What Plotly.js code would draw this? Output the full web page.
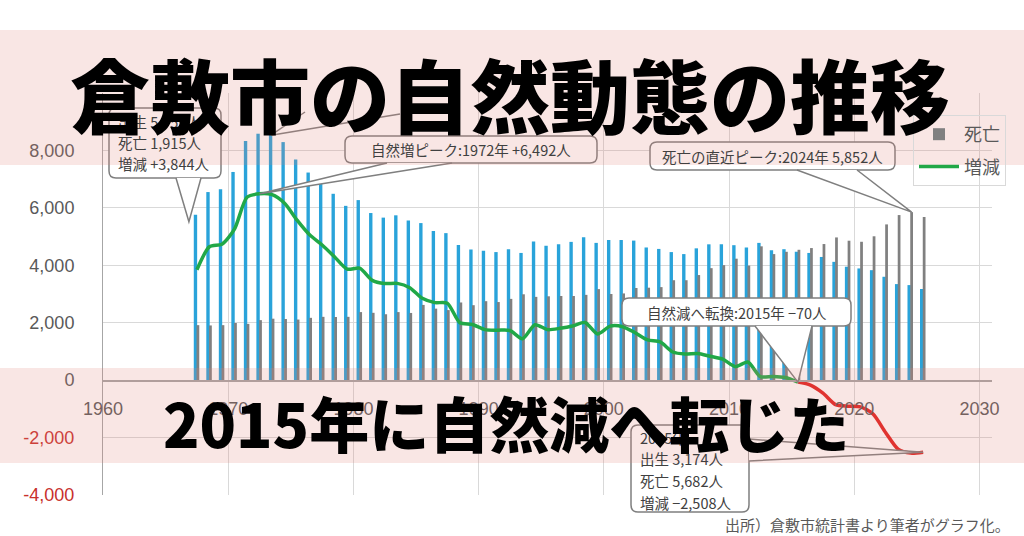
<!DOCTYPE html>
<html><head><meta charset="utf-8">
<script src="https://cdn.plot.ly/plotly-3.0.1.min.js"></script>
<style>html,body{margin:0;padding:0;background:#fff}#chart{width:1024px;height:536px}</style>
</head><body><div id="chart"></div>
<script>
const years = [1967,1968,1969,1970,1971,1972,1973,1974,1975,1976,1977,1978,1979,1980,1981,1982,1983,1984,1985,1986,1987,1988,1989,1990,1991,1992,1993,1994,1995,1996,1997,1998,1999,2000,2001,2002,2003,2004,2005,2006,2007,2008,2009,2010,2011,2012,2013,2014,2015,2016,2017,2018,2019,2020,2021,2022,2023,2024,2025];
const births = [5759,6550,6650,7250,8330,8582,8600,8290,7680,7230,6910,6490,6070,6270,5820,5660,5740,5560,5470,5190,5120,4705,4550,4510,4460,4560,4430,4830,4680,4735,4815,4980,4780,4880,4880,4860,4620,4570,4460,4390,4590,4730,4735,4700,4620,4780,4520,4560,4470,4430,4290,4120,3950,3890,3830,3600,3345,3310,3174];
const deaths = [1915,1905,1915,1990,1960,2090,2140,2130,2110,2170,2205,2200,2205,2370,2345,2295,2370,2340,2620,2490,2440,2705,2610,2750,2720,2830,2990,2900,2920,2930,2930,2970,3170,3000,3020,3210,3220,3240,3480,3480,3660,3900,4005,4230,3990,4660,4390,4470,4540,4600,4740,4970,4856,4819,5010,5424,5749,5852,5682];
const change = [3844,4645,4735,5260,6370,6492,6460,6160,5570,5060,4705,4290,3865,3900,3475,3365,3370,3220,2850,2700,2680,2000,1940,1760,1740,1730,1440,1930,1760,1805,1885,2010,1610,1880,1860,1650,1400,1330,980,910,930,830,730,470,630,120,130,90,-70,-170,-450,-850,-906,-929,-1180,-1824,-2404,-2542,-2508];
const yTicks = [-4000,-2000,0,2000,4000,6000,8000];
const xTicks = [1960,1970,1980,1990,2000,2010,2020,2030];

// layout geometry
const M = {l:103, r:32, t:93, b:41}, W = 1024, H = 536;
const XR = [1960, 2031], YR = [-4000, 10000];
const PW = W - M.l - M.r, PH = H - M.t - M.b;
const xpix = x => M.l + (x - XR[0]) / (XR[1] - XR[0]) * PW;
const ypix = v => M.t + (YR[1] - v) / (YR[1] - YR[0]) * PH;
const px = p => (p - M.l) / PW;
const py = p => (H - M.b - p) / PH;
const mid = y => y + 0.5;

const fmt = v => Math.abs(v).toLocaleString('en-US');
const sgn = v => (v > 0 ? '+' : v < 0 ? '−' : '') + fmt(v);

const xs = years.map(mid);
const gIdx = years.map((y,i)=>i).filter(i => years[i] <= 2015);
const rIdx = years.map((y,i)=>i).filter(i => years[i] >= 2015);

const traces = [
  {type:'bar', name:'出生', x:xs, y:births, width:0.27, offset:-0.25, marker:{color:'#29a3da'}, showlegend:false, legendgroup:'a'},
  {type:'bar', name:'死亡', x:xs, y:deaths, width:0.22, offset:-0.03, marker:{color:'#808080'}, legendgroup:'b'},
  {type:'scatter', mode:'lines', name:'増減', x:gIdx.map(i=>xs[i]), y:gIdx.map(i=>change[i]), line:{color:'#21a847', width:3.5, shape:'spline', smoothing:0.7}, legendgroup:'c'},
  {type:'scatter', mode:'lines', name:'増減(減)', x:rIdx.map(i=>xs[i]), y:rIdx.map(i=>change[i]), line:{color:'#e0201e', width:3.5, shape:'spline', smoothing:0.7}, showlegend:false, legendgroup:'d'}
];

const CF = {family:'"Noto Sans CJK JP", "Noto Sans", sans-serif', size:14.5, color:'#404040'};
const shapes = [], annotations = [];

function roundRect(x0,y0,x1,y1,r){
  const P=(a,b)=>px(a)+','+py(b);
  return 'M'+P(x0+r,y0)+' L'+P(x1-r,y0)+' Q'+P(x1,y0)+' '+P(x1,y0+r)+' L'+P(x1,y1-r)+' Q'+P(x1,y1)+' '+P(x1-r,y1)+' L'+P(x0+r,y1)+' Q'+P(x0,y1)+' '+P(x0,y1-r)+' L'+P(x0,y0+r)+' Q'+P(x0,y0)+' '+P(x0+r,y0)+' Z';
}
function callout(box, base1, base2, tip, lines, opts){
  opts = opts || {};
  shapes.push({type:'path', xref:'paper', yref:'paper', layer:'above', path:roundRect(box[0],box[1],box[2],box[3],7), fillcolor:'#ffffff', line:{color:'#7f7f7f', width:1.5}});
  shapes.push({type:'path', xref:'paper', yref:'paper', layer:'above', path:'M'+px(base1[0])+','+py(base1[1])+' L'+px(tip[0])+','+py(tip[1])+' L'+px(base2[0])+','+py(base2[1]), fillcolor:'#ffffff', line:{color:'#7f7f7f', width:1.5}});
  if (opts.center){
    annotations.push({xref:'paper', yref:'paper', x:px((box[0]+box[2])/2), y:py((box[1]+box[3])/2), xanchor:'center', yanchor:'middle', text:lines[0], showarrow:false, font:Object.assign({}, CF, opts.font||{})});
  } else {
    lines.forEach((t,k)=>{
      annotations.push({xref:'paper', yref:'paper', x:px(box[0]+7), y:py(opts.y0 + k*opts.dy), xanchor:'left', yanchor:'middle', text:t, showarrow:false, font:CF});
    });
  }
}

// first year callout
const i0 = 0;
callout([109,108,221,178],[176,178],[201,178],[xpix(xs[i0])-8, ypix(births[i0])+7],
  ['出生 '+fmt(births[i0])+'人','死亡 '+fmt(deaths[i0])+'人','増減 '+sgn(change[i0])+'人'], {y0:122, dy:20.5});
// natural increase peak
const ip = change.indexOf(Math.max(...change));
callout([345,136,597,163],[387,163],[452,163],[xpix(xs[ip]), ypix(change[ip])],
  ['自然増ピーク:'+years[ip]+'年 '+sgn(change[ip])+'人'], {center:true});
// recent death peak
const id = deaths.indexOf(Math.max(...deaths));
callout([650,142,895,170],[797,170],[857,170],[xpix(xs[id]+0.08), ypix(deaths[id])],
  ['死亡の直近ピーク:'+years[id]+'年 '+fmt(deaths[id])+'人'], {center:true});
// turning to natural decrease
const it = change.findIndex(v => v < 0);
callout([622,298,851,326],[755,326],[812,326],[xpix(xs[it]), ypix(change[it])],
  ['自然減へ転換:'+years[it]+'年 '+sgn(change[it])+'人'], {center:true});
// latest year
const il = years.length - 1;
callout([631,425,749,512],[749,439],[749,461],[xpix(xs[il]), ypix(change[il])],
  [years[il]+'年','出生 '+fmt(births[il])+'人','死亡 '+fmt(deaths[il])+'人','増減 '+sgn(change[il])+'人'], {y0:437, dy:21.7});
// leader of the births peak callout (hidden behind title)
const ib = births.indexOf(Math.max(...births));
[[305,112],[400,114]].forEach(e=>{
  shapes.push({type:'line', xref:'paper', yref:'paper', layer:'above', x0:px(xpix(xs[ib])-1), y0:py(ypix(births[ib])+2), x1:px(e[0]), y1:py(e[1]), line:{color:'#7f7f7f', width:1.5}});
});

// pink bands
const band = 'rgba(225,128,118,0.2)';
shapes.push({type:'rect', xref:'paper', yref:'paper', layer:'above', x0:px(0), x1:px(W), y0:py(30), y1:py(165), fillcolor:band, line:{width:0}});
shapes.push({type:'rect', xref:'paper', yref:'paper', layer:'above', x0:px(0), x1:px(W), y0:py(368), y1:py(463), fillcolor:band, line:{width:0}});

// titles and source
annotations.push({xref:'paper', yref:'paper', x:px(510), y:py(92), xanchor:'center', yanchor:'middle', showarrow:false,
  text:'倉敷市の自然動態の推移', font:{family:'"Noto Sans CJK JP", sans-serif', size:80, color:'#000', weight:900}});
annotations.push({xref:'paper', yref:'paper', x:px(506), y:py(421), xanchor:'center', yanchor:'middle', showarrow:false,
  text:'2015年に自然減へ転じた', font:{family:'"Noto Sans CJK JP", sans-serif', size:60, color:'#000', weight:900}});
annotations.push({xref:'paper', yref:'paper', x:px(1012), y:py(524), xanchor:'right', yanchor:'middle', showarrow:false,
  text:'出所）倉敷市統計書より筆者がグラフ化。', font:{family:'"Noto Sans CJK JP", sans-serif', size:15, color:'#595959'}});

const tickFont = {family:'"Liberation Sans", Arial, sans-serif', size:18, color:'#595959'};
const layout = {
  width:W, height:H, margin:M, paper_bgcolor:'#ffffff', plot_bgcolor:'rgba(0,0,0,0)',
  barmode:'overlay', showlegend:true, hovermode:false,
  xaxis:{range:XR, tickvals:xTicks, ticktext:xTicks.map(String), showgrid:true, gridcolor:'#d9d9d9', gridwidth:1,
    anchor:'free', position:(0 - YR[0])/(YR[1]-YR[0]), showline:true, linecolor:'#a6a6a6', linewidth:1.5,
    ticks:'outside', ticklen:12, tickcolor:'rgba(0,0,0,0)', tickfont:tickFont, zeroline:false},
  yaxis:{range:YR, tickvals:yTicks,
    ticktext:yTicks.map(v => v < 0 ? '<span style="color:#c8302c">-' + fmt(v) + '</span>' : fmt(v)),
    showgrid:true, gridcolor:'#d9d9d9', gridwidth:1, zeroline:false, showline:true, linecolor:'#a6a6a6', linewidth:1,
    ticks:'outside', ticklen:24, tickcolor:'rgba(0,0,0,0)', tickfont:tickFont},
  legend:{x:px(913), y:py(115), xanchor:'left', yanchor:'top', bgcolor:'rgba(0,0,0,0)', bordercolor:'#d9d9d9', borderwidth:1,
    font:{family:'"Noto Sans CJK JP", sans-serif', size:18, color:'#595959'}, traceorder:'grouped', tracegroupgap:6, itemwidth:40},
  shapes:shapes, annotations:annotations
};
Plotly.newPlot('chart', traces, layout, {displayModeBar:false, staticPlot:true});
</script></body></html>
